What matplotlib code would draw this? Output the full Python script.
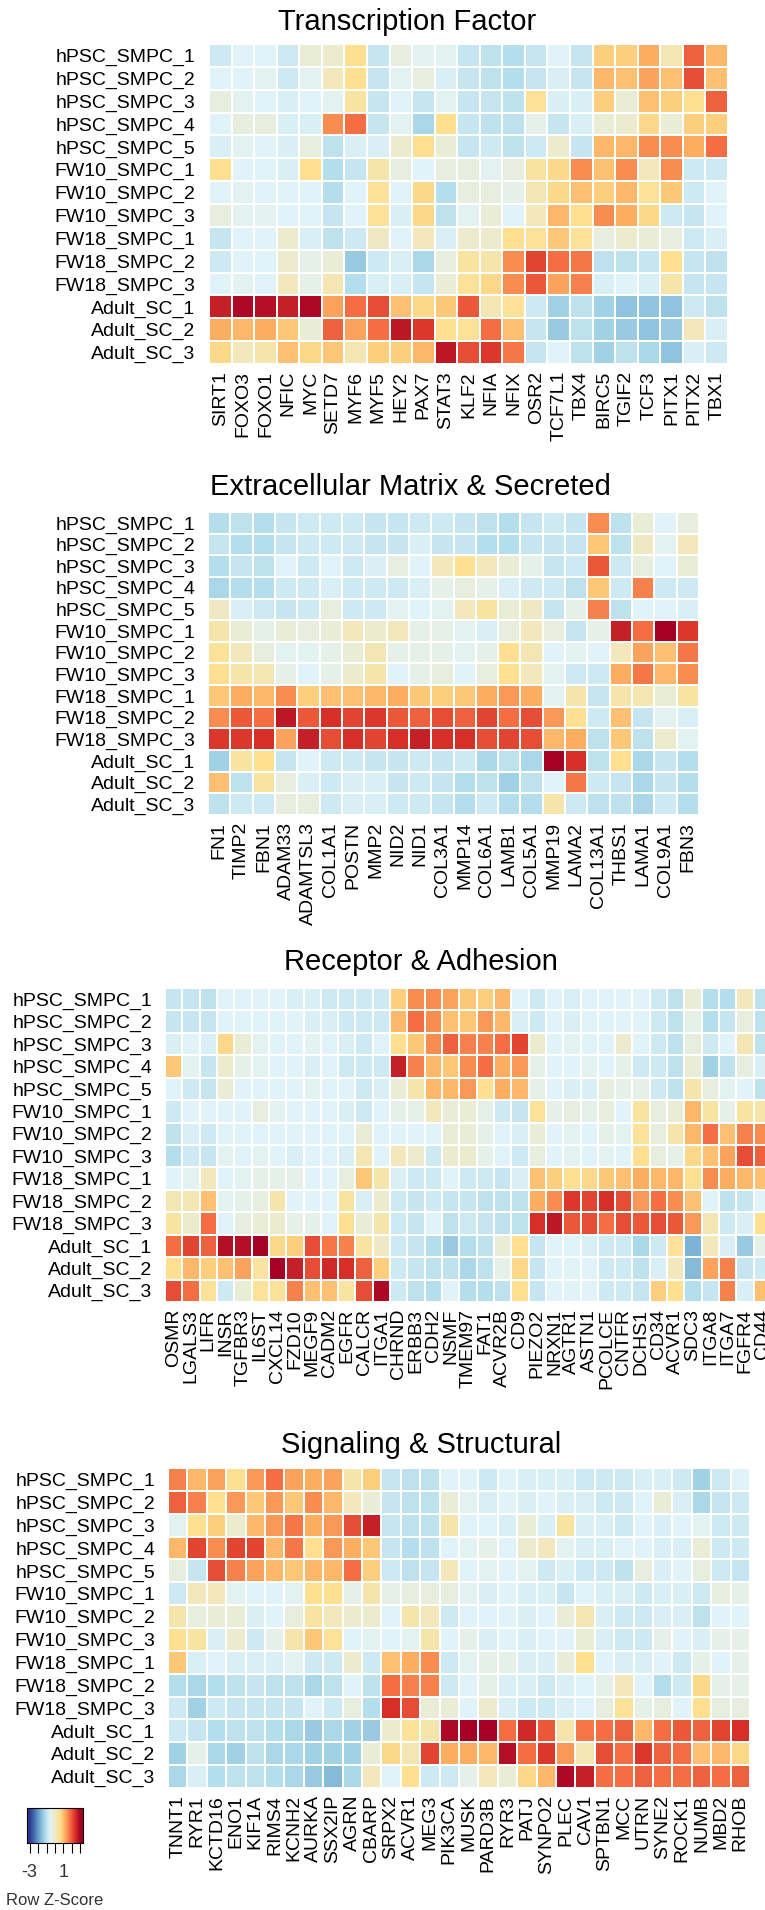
import numpy as np
import matplotlib
matplotlib.use('Agg')
import matplotlib.pyplot as plt
from matplotlib.colors import Normalize, LinearSegmentedColormap

plt.rcParams['font.family'] = ['Liberation Sans', 'DejaVu Sans']

samples = ['hPSC_SMPC_1', 'hPSC_SMPC_2', 'hPSC_SMPC_3', 'hPSC_SMPC_4', 'hPSC_SMPC_5',
           'FW10_SMPC_1', 'FW10_SMPC_2', 'FW10_SMPC_3',
           'FW18_SMPC_1', 'FW18_SMPC_2', 'FW18_SMPC_3',
           'Adult_SC_1', 'Adult_SC_2', 'Adult_SC_3']

# --- Transcription Factor ---
tf_genes = ['SIRT1', 'FOXO3', 'FOXO1', 'NFIC', 'MYC', 'SETD7', 'MYF6', 'MYF5', 'HEY2', 'PAX7',
            'STAT3', 'KLF2', 'NFIA', 'NFIX', 'OSR2', 'TCF7L1', 'TBX4', 'BIRC5', 'TGIF2', 'TCF3',
            'PITX1', 'PITX2', 'TBX1']
tf_values = [
    [-0.8, -0.6, -0.6, -0.8, -0.2, -0.1, 0.6, -0.9, -0.3, -0.5, -0.5, -0.9, -1.0, -1.1, -0.9, -0.6, -0.9, 0.8, 0.8, 1.2, 0.2, 1.9, 1.1],
    [-0.6, -0.6, -0.5, -0.8, -0.5, 0.1, 0.6, -0.9, -0.5, -0.3, -0.7, -0.9, -1.0, -1.1, -0.9, -0.7, -0.9, 1.1, 1.0, 1.3, 1.0, 2.1, 1.0],
    [-0.3, -0.5, -0.6, -0.7, -0.6, -0.5, 0.4, -0.9, -0.6, -0.9, -0.5, -0.9, -0.9, -1.0, 0.5, -0.7, -0.7, 0.8, -0.2, 1.0, 0.8, 0.6, 1.9],
    [-0.6, -0.3, -0.3, -0.7, -0.7, 1.5, 1.8, -0.9, -0.5, -1.2, 0.6, -0.9, -1.0, -1.0, -0.4, -0.9, -0.7, -0.2, -0.1, 0.7, -0.2, 0.8, 0.8],
    [-0.7, -0.5, -0.6, -0.7, -0.3, -1.0, -0.7, -0.7, -0.1, 0.6, -0.2, -0.9, -0.8, -1.0, -0.8, -0.1, -0.9, 1.1, 1.1, 1.5, 1.5, 1.2, 1.8],
    [0.6, -0.6, -0.6, -0.7, 0.6, -1.1, -0.9, 0.3, -0.3, -0.6, -0.3, -0.3, -0.5, -0.3, 0.4, 0.7, 1.5, 1.0, 1.5, 0.1, 1.5, -0.8, -0.8],
    [-0.6, -0.5, -0.6, -0.6, -0.6, -1.1, -0.6, 0.5, -0.6, 0.7, -1.1, -0.3, -0.3, -0.4, 0.2, 0.7, 1.0, 0.8, 1.1, 0.5, 0.9, -0.8, -0.6],
    [-0.3, -0.5, -0.5, -0.6, -0.6, -0.9, -0.6, 0.5, -0.7, 0.7, -1.0, -0.5, -0.2, -0.6, 0.1, 1.1, 0.6, 1.5, 1.2, 0.7, -0.8, -0.9, -0.6],
    [-0.9, -0.6, -0.6, -0.1, -0.7, -1.0, -0.8, 0.0, -0.6, 0.1, -0.7, -0.1, -0.1, 0.6, 0.5, 0.9, 0.5, -0.3, -0.1, -0.2, -0.3, -0.8, -0.7],
    [-0.8, -0.6, -0.6, -0.1, -0.4, -0.2, -1.4, -0.8, -0.7, -1.2, -0.3, 0.4, 0.3, 1.5, 2.2, 1.8, 1.7, -1.0, -1.0, -0.9, 0.6, -0.9, -1.0],
    [-0.6, -0.5, -0.6, 0.1, -0.4, 0.2, -1.1, -0.7, -0.7, -0.9, -0.2, 0.5, 0.7, 1.5, 2.0, 1.3, 1.6, -0.7, -0.6, -0.7, 0.3, -0.9, -0.9],
    [2.6, 2.9, 2.8, 2.6, 2.9, 1.3, 1.8, 2.1, 1.0, 0.7, 0.9, 2.0, 0.2, 0.5, -0.8, -1.3, -1.0, -1.3, -1.5, -1.5, -1.5, -0.8, -1.0],
    [1.2, 1.1, 1.2, 0.9, -0.2, 1.9, 1.3, 1.8, 2.7, 2.3, 0.6, 0.5, 1.8, 1.0, -0.9, -1.4, -1.0, -1.3, -1.4, -1.5, -1.4, 0.1, -0.7],
    [0.7, 0.1, 0.3, 1.0, 0.7, 0.9, 0.2, 0.8, 0.8, 1.1, 2.7, 2.1, 2.3, 1.7, -0.9, -0.6, -1.0, -1.3, -1.0, -1.2, -1.5, -0.7, -0.8],
]

# --- Extracellular Matrix & Secreted ---
ecm_genes = ['FN1', 'TIMP2', 'FBN1', 'ADAM33', 'ADAMTSL3', 'COL1A1', 'POSTN', 'MMP2', 'NID2', 'NID1',
             'COL3A1', 'MMP14', 'COL6A1', 'LAMB1', 'COL5A1', 'MMP19', 'LAMA2', 'COL13A1', 'THBS1',
             'LAMA1', 'COL9A1', 'FBN3']
ecm_values = [
    [-1.1, -1.0, -1.1, -0.9, -0.8, -0.8, -0.8, -0.9, -0.9, -0.8, -0.8, -0.9, -1.0, -1.1, -0.9, -0.8, -0.9, 1.5, -1.0, -0.2, -0.6, -0.3],
    [-0.9, -1.1, -1.1, -0.9, -0.8, -0.8, -0.8, -0.9, -0.9, -0.7, -0.9, -0.9, -1.1, -1.1, -0.9, -0.9, -0.9, 0.9, -1.0, 0.0, -0.5, 0.1],
    [-1.1, -0.9, -1.0, -0.6, -0.8, -0.6, -0.8, -0.7, -0.3, -0.6, 0.1, 0.6, 0.1, -0.2, -0.4, -0.9, -0.8, 2.0, -0.8, -0.3, -0.6, -0.2],
    [-1.2, -1.1, -1.1, -0.8, -0.8, -0.7, -0.8, -0.8, -0.8, -0.7, -0.4, -0.3, -0.4, -0.7, -0.8, -0.8, -1.0, 0.9, -0.8, 1.6, -0.8, -0.8],
    [0.0, -0.7, -0.8, -0.9, -0.8, -0.3, -0.8, -0.8, -0.5, -0.6, -0.5, 0.1, 0.4, -0.2, 0.0, -0.9, -0.4, 1.6, -1.0, -0.6, -0.6, -0.7],
    [0.3, -0.2, -0.4, -0.2, -0.3, -0.2, 0.1, -0.1, 0.1, -0.4, -0.4, -0.5, -0.7, -0.3, 0.1, -0.3, -0.9, -0.4, 2.6, 1.8, 3.0, 2.3],
    [0.5, 0.1, -0.3, -0.5, -0.5, -0.4, -0.2, 0.2, -0.4, -0.4, -0.4, -0.5, -0.4, 0.6, 0.2, -0.6, -0.5, -0.6, 0.1, 1.3, 1.0, 1.7],
    [0.6, 0.3, 0.2, -0.4, -0.6, -0.4, -0.1, 0.3, -0.6, -0.4, -0.3, -0.6, -0.3, 0.6, 0.1, -0.5, -0.8, -0.8, 1.2, 1.7, 1.1, 1.5],
    [0.9, 1.2, 1.1, 1.5, 0.8, 1.0, 1.0, 1.1, 1.2, 0.9, 0.8, 0.9, 1.2, 1.4, 1.2, -0.5, 0.3, -0.9, 0.3, 0.2, -0.2, 0.4],
    [1.5, 2.0, 1.8, 2.7, 2.0, 2.4, 2.2, 2.3, 2.0, 1.9, 2.1, 1.9, 2.2, 1.8, 2.1, 1.4, 0.6, -0.8, 1.0, -0.9, -0.5, -0.7],
    [2.3, 2.3, 2.4, 1.3, 2.6, 2.1, 2.4, 2.2, 2.4, 2.6, 2.4, 2.4, 2.1, 2.2, 2.1, 1.1, 1.2, -1.0, 0.9, -1.0, -0.1, -0.5],
    [-1.3, 0.4, 0.6, -0.9, -0.6, -0.8, -0.8, -0.9, -0.9, -0.8, -0.9, -0.8, -1.2, -1.0, -1.2, 3.0, 2.4, -1.0, 0.6, -1.2, -0.9, -1.1],
    [1.0, -1.0, 0.4, -0.3, -0.7, -0.8, -0.7, -0.7, -0.9, -0.8, -0.9, -1.1, -1.0, -1.3, -1.0, -0.6, 1.7, -0.8, -0.9, -1.2, -0.9, -1.1],
    [-1.0, -0.8, -0.8, -0.3, -0.3, -0.8, -0.7, -0.7, -0.8, -0.8, -0.9, -1.1, -0.8, -1.1, -1.1, 0.3, -0.8, -1.0, -1.0, -1.2, -0.8, -1.1],
]

# --- Receptor & Adhesion ---
rec_genes = ['OSMR', 'LGALS3', 'LIFR', 'INSR', 'TGFBR3', 'IL6ST', 'CXCL14', 'FZD10', 'MEGF9', 'CADM2',
             'EGFR', 'CALCR', 'ITGA1', 'CHRND', 'ERBB3', 'CDH2', 'NSMF', 'TMEM97', 'FAT1', 'ACVR2B',
             'CD9', 'PIEZO2', 'NRXN1', 'AGTR1', 'ASTN1', 'PCOLCE', 'CNTFR', 'DCHS1', 'CD34', 'ACVR1',
             'SDC3', 'ITGA8', 'ITGA7', 'FGFR4', 'CD44']
rec_values = [
    [-0.9, -0.9, -1.0, -0.6, -0.6, -0.6, -0.6, -0.7, -0.7, -0.8, -0.8, -0.8, -0.8, 0.8, 1.5, 1.5, 1.3, 0.9, 0.8, 1.1, -0.6, -0.8, -0.6, -0.7, -0.6, -0.6, -0.6, -0.6, -0.8, -1.0, -0.2, -1.1, -1.1, 0.1, -1.0],
    [-0.9, -0.9, -0.9, -0.6, -0.6, -0.6, -0.6, -0.6, -0.7, -0.7, -0.8, -0.8, -0.8, 1.1, 1.8, 1.5, 1.0, 0.9, 1.4, 1.1, -0.7, -0.8, -0.6, -0.7, -0.6, -0.6, -0.6, -0.6, -0.8, -1.0, -0.4, -1.1, -0.9, -0.3, -1.0],
    [-0.7, -0.6, -0.7, 0.7, -0.2, -0.5, -0.6, -0.6, -0.5, -0.6, -0.7, -0.8, -0.6, 0.6, 0.9, 1.5, 1.9, 1.6, 1.6, 1.8, 2.2, -0.1, -0.6, -0.5, -0.6, -0.6, -0.1, -0.6, -0.8, -1.0, -0.3, -0.8, -0.6, 0.2, -1.0],
    [0.9, -0.5, -0.9, -0.1, -0.4, -0.5, -0.6, -0.6, -0.7, -0.6, -0.8, -0.8, -0.8, 2.6, 1.6, 1.1, 0.9, 1.5, 1.8, 1.2, 1.4, -0.4, -0.6, -0.6, -0.5, -0.6, -0.4, -0.8, -0.8, -1.0, -0.2, -1.3, -1.0, -0.3, -0.7],
    [-0.6, -0.8, -0.9, -0.2, -0.6, -0.6, -0.6, -0.6, -0.5, -0.6, -0.6, -0.8, -0.7, -0.2, 0.3, 1.1, 1.1, 1.4, 0.6, 1.2, 1.1, -0.4, -0.6, -0.7, -0.7, -0.3, -0.4, -0.4, -0.8, -1.0, 0.3, -0.3, -0.5, -0.6, -1.0],
    [-0.8, -0.6, -0.6, -0.6, -0.6, -0.3, -0.5, -0.6, -0.6, -0.6, -0.7, -0.8, -0.6, -0.4, -0.4, 0.1, -0.2, -0.2, -0.4, -0.8, -0.9, 0.5, -0.4, -0.3, -0.4, -0.3, -0.6, 0.4, -0.3, -0.2, 1.1, 0.4, -0.4, 0.4, 0.3],
    [-1.0, -0.7, -0.8, -0.6, -0.6, -0.6, -0.6, -0.6, -0.6, -0.6, -0.6, -0.2, -0.6, -0.6, -0.6, -0.6, -0.2, -0.2, -0.4, -0.6, -0.7, -0.2, -0.6, -0.5, -0.6, -0.4, -0.5, 0.5, -0.3, 0.3, 1.1, 1.8, 1.0, 1.6, 1.5],
    [-1.1, -0.8, -0.9, -0.5, -0.6, -0.5, -0.6, -0.7, -0.6, -0.6, -0.7, 0.2, -0.6, 0.1, -0.1, -0.8, -0.1, -0.1, -0.4, -0.6, -0.8, -0.3, -0.6, -0.5, -0.6, -0.5, -0.6, 0.6, -0.3, -0.4, 0.7, 1.0, 1.3, 2.1, 1.9],
    [-0.6, -0.5, 0.1, -0.6, -0.5, -0.4, -0.4, -0.4, -0.6, -0.6, -0.3, 0.9, 0.3, -0.7, -0.8, -0.8, -0.6, -0.8, -0.8, -0.9, -0.7, 1.0, 0.8, 0.6, 0.7, 0.9, 1.0, 1.2, 1.1, 1.1, 0.6, 1.5, 1.2, 1.1, 1.0],
    [0.2, 0.2, 1.0, -0.5, -0.4, -0.3, 0.3, -0.6, -0.6, -0.6, 0.4, -0.7, -0.1, -0.8, -0.9, -0.8, -0.9, -0.9, -1.0, -1.0, -1.0, 1.2, 1.5, 2.3, 2.2, 2.4, 2.1, 1.4, 1.8, 1.5, 1.0, -0.6, -1.0, -0.9, -0.6],
    [0.4, -0.1, 1.8, -0.6, -0.3, -0.2, -0.1, -0.4, -0.4, -0.6, 0.6, -0.2, 0.3, -0.8, -0.9, -0.6, -1.0, -0.8, -0.9, -1.0, -1.0, 2.4, 2.7, 2.0, 2.1, 1.8, 2.1, 2.0, 2.1, 2.0, 1.4, 0.2, -0.8, -0.7, 0.6],
    [1.8, 2.2, 1.9, 2.8, 2.8, 3.0, 0.7, 0.8, 2.1, 1.7, 1.6, 0.4, 0.0, -0.8, -0.9, -1.1, -1.4, -1.1, -1.0, -0.2, 0.6, -0.9, -0.6, -0.6, -0.7, -0.8, -0.8, -1.2, -0.8, 0.5, -1.7, 0.1, -0.7, -1.4, -0.4],
    [0.6, 1.1, 0.8, 1.0, 1.3, 0.4, 3.0, 2.6, 2.1, 2.5, 2.4, 1.9, 0.8, -0.8, -0.9, -1.0, -1.0, -1.2, -1.0, -0.4, 0.7, -0.9, -0.6, -0.6, -0.6, -0.8, -0.8, -1.0, -0.7, 0.1, -1.6, 1.3, 1.6, -0.9, -0.8],
    [2.1, 1.8, 0.5, -0.8, -0.2, 0.5, 0.5, 1.6, 1.0, 1.0, 0.4, 2.1, 2.9, -0.8, -1.0, -1.1, -0.6, -1.1, -1.1, -1.0, 0.6, -0.9, -0.6, -0.6, -0.6, -0.8, -0.8, -0.9, 0.8, 0.6, -1.1, -0.9, 1.6, -0.7, 1.0],
]

# --- Signaling & Structural ---
sig_genes = ['TNNT1', 'RYR1', 'KCTD16', 'ENO1', 'KIF1A', 'RIMS4', 'KCNH2', 'AURKA', 'SSX2IP', 'AGRN',
             'CBARP', 'SRPX2', 'ACVR1', 'MEG3', 'PIK3CA', 'MUSK', 'PARD3B', 'RYR3', 'PATJ', 'SYNPO2',
             'PLEC', 'CAV1', 'SPTBN1', 'MCC', 'UTRN', 'SYNE2', 'ROCK1', 'NUMB', 'MBD2', 'RHOB']
sig_values = [
    [1.6, 1.1, 1.3, 0.6, 1.4, 1.8, 1.3, 1.2, 1.3, 0.3, 0.8, -0.9, -1.0, -1.0, -0.6, -0.6, -0.8, -0.6, -0.7, -0.7, -0.7, -0.8, -0.8, -0.8, -0.7, -0.7, -0.8, -1.3, -0.8, -0.6],
    [1.9, 1.6, 0.6, 1.4, 0.9, 1.4, 0.9, 1.5, 1.1, 0.1, -0.2, -0.9, -1.0, -1.0, -0.2, -0.5, -0.7, -0.6, -0.7, -0.6, -0.7, -0.7, -0.8, -0.8, -0.6, -0.2, -0.7, -1.2, -0.9, -0.8],
    [-0.5, 0.6, 0.8, -0.1, 1.1, 1.4, 1.7, 1.2, 1.4, 2.1, 2.6, -0.9, -1.0, -1.0, 0.3, -0.6, -0.6, -0.7, -0.2, -0.7, 0.4, -0.7, -0.7, -0.8, -0.6, -0.7, -0.6, -0.5, -0.8, -0.8],
    [1.1, 2.2, 1.5, 2.2, 2.2, 1.1, 1.7, 0.6, 1.4, 1.2, 0.9, -0.9, -1.1, -1.0, -0.6, -0.5, -0.4, -0.6, -0.1, 0.1, -0.5, -0.7, -0.7, -0.6, -0.6, -0.7, -0.7, -0.2, -0.8, -0.8],
    [-0.3, -0.9, 2.1, 1.6, 1.3, 1.1, 0.9, 1.1, 1.1, 1.8, 0.8, -0.8, -1.0, -0.9, 0.1, -0.6, -0.5, -0.6, -0.5, -0.8, -0.7, -0.8, -0.8, -1.0, -0.3, -0.7, -0.6, -0.3, -0.8, -0.9],
    [-0.8, 0.1, 0.1, -0.5, -0.6, -0.6, -0.5, 0.6, 0.6, -0.4, 0.3, -0.4, -0.3, -0.3, -0.3, -0.5, -0.7, -0.6, -0.7, -0.7, -0.9, -0.6, -0.7, -0.7, -0.8, -0.7, -0.7, -0.8, -0.3, -0.4],
    [0.3, -0.3, -0.2, -0.2, -0.7, -0.6, -0.3, 0.4, 0.1, -0.1, -0.1, -0.6, 0.3, 0.1, -0.8, -0.6, -0.6, -0.6, -0.7, -0.6, -0.2, 0.2, -0.7, -0.8, -0.8, -0.7, -0.7, -1.0, -0.6, -0.6],
    [0.6, 0.4, -0.7, -0.1, -0.8, -0.4, 0.3, 0.9, 0.5, -0.6, -0.5, -0.6, -0.5, 0.3, -0.6, -0.4, -0.7, -0.6, -0.7, -0.6, -0.6, -0.2, -0.7, -0.8, -0.8, -0.4, -0.6, -0.7, -0.4, -0.4],
    [0.9, -0.7, -0.6, -0.7, -0.7, -0.7, -0.5, -0.8, -0.8, -0.1, -0.8, 1.0, 1.2, 1.5, -0.8, -0.5, -0.4, -0.4, -0.7, -0.7, -0.2, 0.6, -0.6, -0.7, -0.7, -0.6, -0.8, -0.4, -0.6, -0.4],
    [-1.1, -1.2, -1.1, -1.0, -0.9, -1.0, -1.0, -1.2, -1.0, -0.6, -1.0, 1.8, 1.6, 1.6, -0.8, -0.6, -0.4, -0.7, -0.7, -0.8, -0.7, -0.6, -0.4, 0.1, -0.6, -1.1, -0.8, 0.7, -0.4, -0.4],
    [-0.8, -1.3, -0.8, -0.9, -0.9, -0.9, -0.9, -0.6, -0.8, -0.3, -1.1, 2.4, 2.1, -0.2, -0.2, -0.6, -0.1, -0.7, -0.8, -0.8, -0.7, -0.6, -0.3, 0.5, -0.4, -0.3, -0.6, 0.6, -0.3, -0.3],
    [-0.8, -0.9, -1.1, -1.0, -1.0, -1.1, -1.2, -1.4, -1.2, -1.3, -1.4, -0.1, 0.5, 0.3, 2.9, 3.0, 3.0, 1.8, 2.5, 2.0, 0.3, 1.7, 1.8, 1.9, 1.1, 1.8, 2.0, 1.9, 2.2, 2.4],
    [-1.3, -0.4, -1.2, -1.3, -1.0, -1.2, -1.2, -1.3, -1.3, -1.3, -0.2, 0.7, 0.2, 2.2, 1.2, 1.2, 1.1, 2.8, 1.8, 2.3, 1.4, 0.2, 2.1, 1.8, 2.3, 1.9, 1.8, 1.0, 1.1, 0.7],
    [-1.2, -0.7, -1.1, -1.0, -1.0, -1.1, -1.2, -1.4, -1.6, -1.2, 0.1, -0.6, 0.6, -0.8, -0.8, -0.4, 0.1, -0.2, 0.7, 1.1, 2.9, 2.6, 1.8, 1.8, 1.9, 1.8, 1.8, 1.9, 1.8, 1.9],
]

W, H = 765, 1910
fig = plt.figure(figsize=(W / 100, H / 100), dpi=100)

# 10-class RdYlBu (no white middle), reversed
key_vals = [-3.0, -2.4, -1.8, -1.2, -0.6, 0.6, 1.2, 1.8, 2.4, 3.0]
key_cols = ['#313695', '#4575b4', '#74add1', '#abd9e9', '#e0f3f8',
            '#fee090', '#fdae61', '#f46d43', '#d73027', '#a50026']
cmap = LinearSegmentedColormap.from_list(
    'rdylbu10', [((v + 3) / 6, c) for v, c in zip(key_vals, key_cols)])
norm = Normalize(vmin=-3, vmax=3)


def px_axes(l, t, r, b):
    # axes from pixel box (left, top, right, bottom)
    return fig.add_axes([l / W, 1 - b / H, (r - l) / W, (b - t) / H])


def heat(box, genes, values, title, title_xy, ypad):
    ax = px_axes(*box)
    z = np.array(values)
    ax.pcolormesh(z, cmap=cmap, norm=norm, edgecolors='white', linewidth=1.1)
    ax.set_xlim(0, len(genes))
    ax.set_ylim(len(samples), 0)
    ax.set_xticks(np.arange(len(genes)) + 0.5)
    ax.set_xticklabels(genes, rotation=90, fontsize=14)
    ax.set_yticks(np.arange(len(samples)) + 0.5)
    ax.set_yticklabels(samples, fontsize=14)
    ax.tick_params(axis='x', length=0, pad=5)
    ax.tick_params(axis='y', length=0, pad=ypad)
    for s in ax.spines.values():
        s.set_visible(False)
    fig.text(title_xy[0] / W, 1 - title_xy[1] / H, title, fontsize=21,
             ha='center', va='center')
    return ax


heat((209, 44, 728, 364), tf_genes, tf_values, 'Transcription Factor', (407, 22), 10)
heat((208, 512, 699, 815), ecm_genes, ecm_values, 'Extracellular Matrix & Secreted', (410, 487), 9)
heat((165, 988, 771, 1302), rec_genes, rec_values, 'Receptor & Adhesion', (421, 962), 9)
heat((168, 1468, 750, 1788), sig_genes, sig_values, 'Signaling & Structural', (421, 1445), 9)

# colour key
cax = px_axes(27, 1808, 83, 1843)
grad = np.linspace(-3.3, 3.3, 256)[None, :]
cax.imshow(grad, aspect='auto', cmap=cmap, norm=norm, extent=[-3.3, 3.3, 0, 1])
cax.set_yticks([])
cax.set_xticks(np.arange(-3, 4))
cax.set_xticklabels(['-3', '', '', '', '1', '', ''], fontsize=13, color='#333333')
cax.tick_params(axis='x', length=7, width=0.8, pad=8)
fig.text(55 / W, 1 - 1900 / H, 'Row Z-Score', fontsize=12, ha='center', va='center',
         color='#333333')

fig.savefig('out.png', dpi=100)
